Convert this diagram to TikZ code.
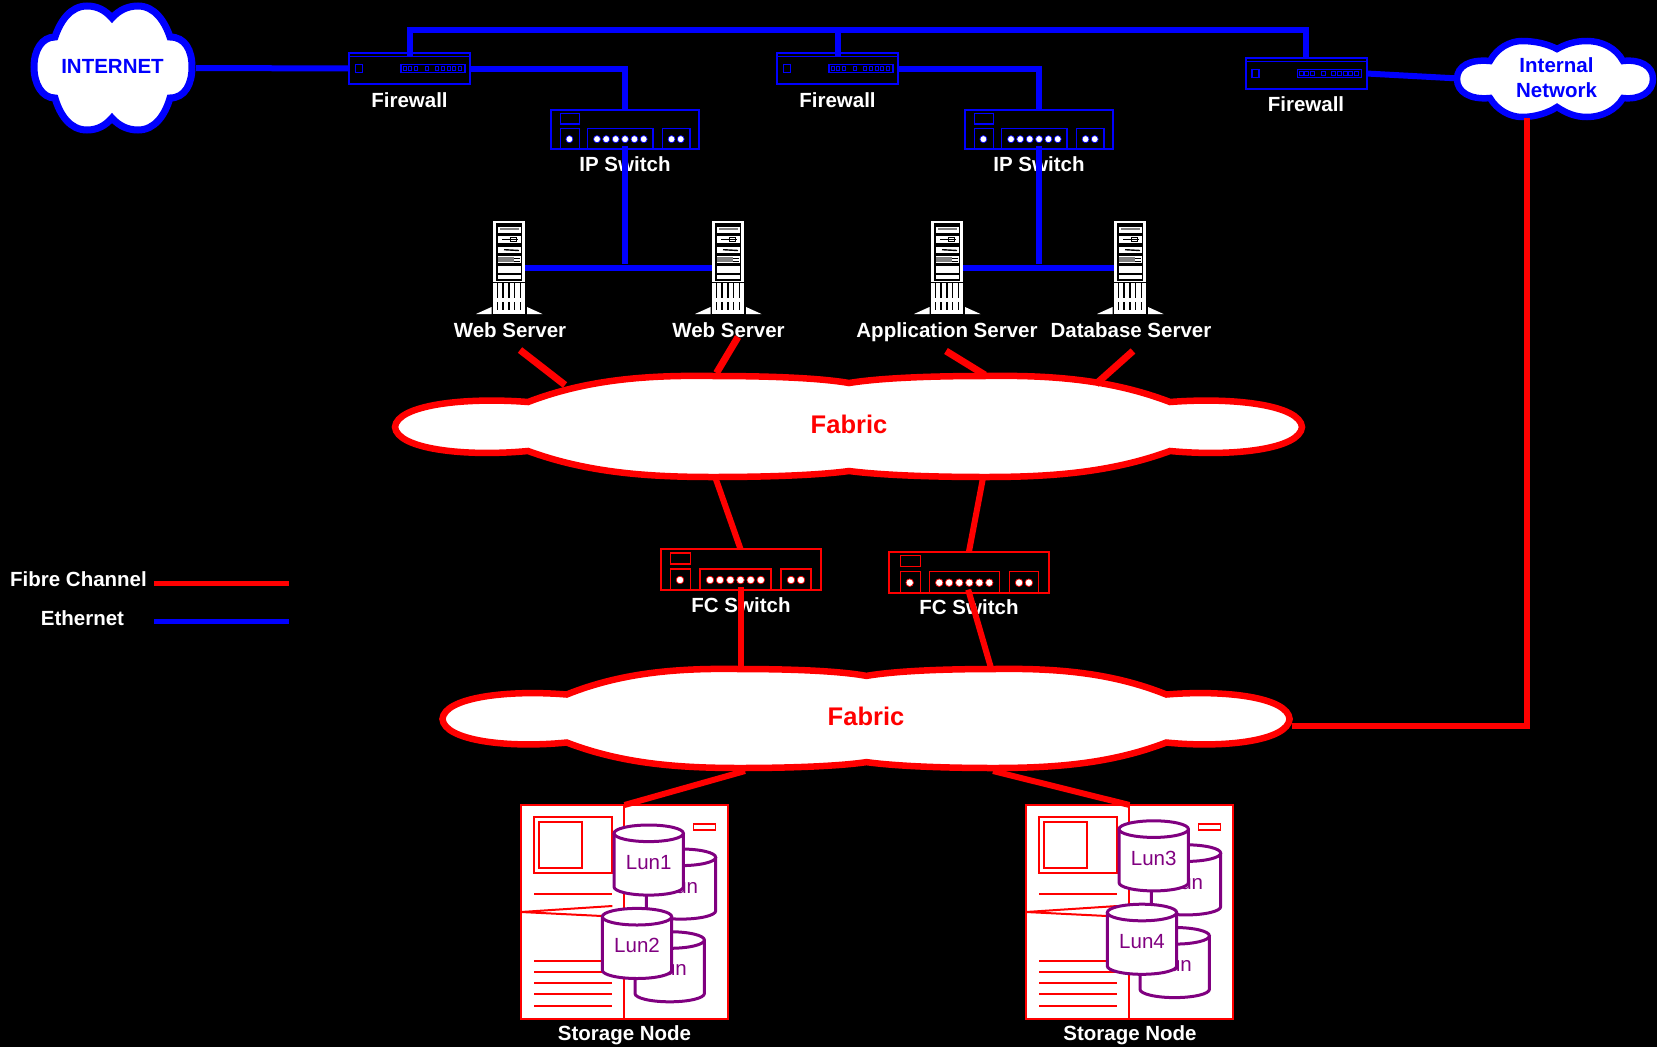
\documentclass[tikz,border=0pt]{standalone}
\usepackage{fontspec}
\setmainfont{Liberation Sans}

\definecolor{lunpurple}{RGB}{128,0,128}

\tikzset{
	lab/.style={text=white,font=\fontsize{20.5}{25}\selectfont\bfseries,inner sep=0pt,text height=14.7pt,text depth=0pt},
	bluelab/.style={text=blue,font=\fontsize{20.5}{25}\selectfont\bfseries,inner sep=0pt,align=center},
	fablab/.style={text=red,font=\fontsize{25.5}{30}\selectfont\bfseries,inner sep=0pt},
	ethline/.style={draw=blue,line width=6pt},
	fcline/.style={draw=red,line width=6pt},
	fwbox/.style={draw=blue,line width=2pt,inner sep=0pt,outer sep=0pt,minimum width=121pt,minimum height=31.5pt},
	ipbox/.style={draw=blue,line width=2pt,inner sep=0pt,outer sep=0pt,minimum width=148pt,minimum height=38.5pt},
	fcbox/.style={draw=red,line width=2pt,inner sep=0pt,outer sep=0pt,minimum width=160pt,minimum height=41pt},
	srvbox/.style={fill=white,inner sep=0pt,outer sep=0pt,minimum width=32.5pt,minimum height=93pt},
	storbox/.style={draw=red,fill=white,line width=2.5pt,inner sep=0pt,outer sep=0pt,minimum width=207pt,minimum height=214pt},
	%firewall front
	fwicon/.pic={
		\draw[blue,line width=1.2pt] (0,4)--(121,4);
		\draw[blue,line width=1.2pt] (6.5,12) rectangle (13.5,20);
		\draw[blue,line width=1.2pt] (52,12) rectangle (116,20);
		\foreach \px in {54,59,65,76,86,92,98,103,109}
			\draw[blue,line width=0.8pt] (\px,14) rectangle (\px+3.5,18);
	},
	%switch front, drawn at 161x41
	switchicon/.pic={
		\draw[#1,line width=1.3pt] (10.3,4) rectangle (30.7,15);
		\draw[#1,line width=1.3pt] (10.3,20) rectangle (30.7,41);
		\draw[#1,line width=1.3pt] (40,20) rectangle (111,41);
		\draw[#1,line width=1.3pt] (121,20) rectangle (151,41);
		\foreach \px in {20,50,60,70.3,80.5,90.7,100.8,131,141}
			\filldraw[draw=#1,fill=white,line width=0.7pt] (\px,31) circle (3.8);
	},
	%tower server, origin at top middle
	srvicon/.pic={
		\fill[black] (-13,2) rectangle (13,60);
		\fill[white] (-11,6) rectangle (12,12);
		\fill[white] (-11,15) rectangle (12,22);
		\fill[white] (-11,25.5) rectangle (12,32);
		\fill[white] (-11,35) rectangle (12,42);
		\fill[white] (-11,45) rectangle (12,52);
		\fill[white] (-11,54) rectangle (12,58);
		\fill[gray] (-9,7) rectangle (10,9);
		\draw[black,line width=0.8pt] (-7,18.5)--(9,18.5);
		\draw[black,line width=0.8pt] (1,16.5) rectangle (7,20.5);
		\draw[black,line width=1.4pt] (-5,28.7)--(10,29.5);
		\fill[gray] (-11,36) rectangle (5,41);
		\fill[black] (-11,42.5) rectangle (12,44.5);
		\draw[black,line width=0.7pt] (5,37)--(11,37) (5,40)--(11,40);
		\foreach \sx in {-11.5,-6,0,5.5,11.5}{
			\draw[black,line width=1.6pt] (\sx,62)--(\sx,77);
			\draw[black,line width=1.6pt] (\sx,81)--(\sx,89);
		}
		\draw[black,line width=0.8pt] (-16,61)--(16,61);
		\fill[white] (-33,93)--(-17.5,86)--(-17.5,93)--cycle;
		\fill[white] (33.5,93)--(18,86)--(18,93)--cycle;
	},
	%storage front, origin at top left
	storicon/.pic={
		\draw[red,line width=2pt] (103,0)--(103,214);
		\draw[red,line width=2pt] (13,11.7) rectangle (91.3,67.7);
		\draw[red,line width=2pt] (18,16.7) rectangle (61,62.7);
		\draw[red,line width=1.4pt] (172.7,19) rectangle (194.7,25);
		\draw[red,line width=2pt] (91.3,101)--(0,107)--(81,111);
		\foreach \ly in {89.3,156,167,178.3,189.3,200.7}
			\draw[red,line width=2pt] (13,\ly)--(91.3,\ly);
	},
	%one disk, origin at middle of its top
	lundisk/.pic={
		\draw[lunpurple,fill=white,line width=3pt] (-34.7,0)--(-34.7,53.5) arc[start angle=180,end angle=0,x radius=34.7,y radius=8.3]--(34.7,0);
		\draw[lunpurple,fill=white,line width=3pt] (0,0) ellipse (34.7 and 8.3);
		\node[text=lunpurple,font=\fontsize{20.5}{25}\selectfont,inner sep=0pt] (-lab) at (0,29) {#1};
	},
	%big cloud, origin at its middle
	fabcloud/.pic={
		\draw[red,fill=white,line width=6.5pt] (-454,0) .. controls (-452,-22) and (-385,-30) .. (-321,-25)
			.. controls (-261,-48) and (-200,-52) .. (-136,-51)
			.. controls (-79,-51) and (-29,-49) .. (0,-44)
			.. controls (31,-49) and (81,-51) .. (136,-51)
			.. controls (200,-52) and (261,-48) .. (321,-25)
			.. controls (385,-30) and (451,-22) .. (453,0)
			.. controls (451,22) and (385,30) .. (321,24)
			.. controls (261,46) and (200,50) .. (136,50)
			.. controls (81,50) and (31,48) .. (0,44)
			.. controls (-29,48) and (-79,50) .. (-136,50)
			.. controls (-200,50) and (-261,46) .. (-321,24)
			.. controls (-385,30) and (-452,22) .. (-454,0) -- cycle;
	}
}

\begin{document}
\begin{tikzpicture}[x=1pt,y=-1pt]
	\fill[black] (0,0) rectangle (1657,1047);
	\useasboundingbox (0,0) rectangle (1657,1047);

	%Clouds
	\draw[blue,fill=white,line width=7pt] (112,18) .. controls (105,10) and (97,6) .. (87,6)
		.. controls (70,6) and (60,22) .. (55,37)
		.. controls (42,37) and (34,50) .. (34,67)
		.. controls (34,84) and (42,98) .. (55,98)
		.. controls (60,115) and (70,130) .. (87,130)
		.. controls (97,130) and (105,126) .. (112,118)
		.. controls (119,126) and (128,130) .. (138,130)
		.. controls (155,130) and (165,115) .. (170,98)
		.. controls (185,98) and (192,84) .. (192,67)
		.. controls (192,50) and (185,37) .. (170,37)
		.. controls (165,22) and (155,6) .. (138,6)
		.. controls (128,6) and (119,10) .. (112,18) -- cycle;
	\draw[blue,fill=white,line width=6.5pt] (1457,79) .. controls (1457,66) and (1470,59) .. (1490,61)
		.. controls (1497,48) and (1510,41) .. (1522,41)
		.. controls (1535,41) and (1548,44) .. (1557,49)
		.. controls (1566,44) and (1575,41) .. (1587,41)
		.. controls (1602,41) and (1616,48) .. (1623,61)
		.. controls (1640,59) and (1653,66) .. (1653,79)
		.. controls (1653,92) and (1640,100) .. (1623,98)
		.. controls (1616,110) and (1602,117) .. (1587,117)
		.. controls (1575,117) and (1566,113) .. (1557,107)
		.. controls (1548,113) and (1535,117) .. (1522,117)
		.. controls (1510,117) and (1497,110) .. (1490,98)
		.. controls (1470,100) and (1457,92) .. (1457,79) -- cycle;
	\pic at (849,427) {fabcloud};
	\pic[xscale=.934,yscale=.98] at (866.5,719) {fabcloud};
	\node[bluelab] (inet) at (112.5,66.5) {INTERNET};
	\node[bluelab,font=\fontsize{20.5}{25.5}\selectfont\bfseries] (intnet) at (1556.5,77.5) {Internal\\Network};
	\node[fablab] (fab1) at (849,424.5) {Fabric};
	\node[fablab] (fab2) at (866,716.5) {Fabric};

	%Firewalls
	\node[fwbox] (fw1) at (409.5,68.5) {};
	\node[fwbox] (fw2) at (837.5,68.5) {};
	\node[fwbox] (fw3) at (1306,73.5) {};
	\pic at (349,52.7) {fwicon};
	\pic at (777,52.7) {fwicon};
	\pic at (1245.5,57.7) {fwicon};
	\node[lab] (fw1lab) at (409.5,100.5) {Firewall};
	\node[lab] (fw2lab) at (837.5,100.5) {Firewall};
	\node[lab] (fw3lab) at (1306,104.5) {Firewall};

	%IP switches
	\node[ipbox] (sw1) at (625,129.5) {};
	\node[ipbox] (sw2) at (1039,129.5) {};
	\pic[xscale=.92,yscale=.94] at (551,110) {switchicon=blue};
	\pic[xscale=.92,yscale=.94] at (965,110) {switchicon=blue};
	\node[lab] (sw1lab) at (625,164.5) {IP Switch};
	\node[lab] (sw2lab) at (1039,164.5) {IP Switch};

	%Servers
	\node[srvbox] (srv1) at (509,267.5) {};
	\node[srvbox] (srv2) at (728,267.5) {};
	\node[srvbox] (srv3) at (947,267.5) {};
	\node[srvbox] (srv4) at (1130,267.5) {};
	\foreach \cx in {509,728,947,1130}
		\pic at (\cx,221) {srvicon};
	\node[lab] (srv1lab) at (510,330.5) {Web Server};
	\node[lab] (srv2lab) at (728.5,330.5) {Web Server};
	\node[lab] (srv3lab) at (947,330.5) {Application Server};
	\node[lab] (srv4lab) at (1131,330.5) {Database Server};

	%FC switches
	\node[fcbox] (fc1) at (740.5,569.5) {};
	\node[fcbox] (fc2) at (969,572) {};
	\pic at (660,549) {switchicon=red};
	\pic[xscale=.985] at (890,551.7) {switchicon=red};
	\node[lab] (fc1lab) at (741,605.5) {FC Switch};
	\node[lab] (fc2lab) at (969,607.5) {FC Switch};

	%Storage nodes
	\node[storbox] (stor1) at (624.5,912) {};
	\node[storbox] (stor2) at (1129.5,912) {};
	\pic at (521,805) {storicon};
	\pic at (1026,805) {storicon};
	\pic (lunb) at (681,857.3) {lundisk=Lun};
	\pic (lun1) at (648.7,833.3) {lundisk=Lun1};
	\pic (lund) at (669.7,940) {lundisk=Lun};
	\pic (lun2) at (637,916.7) {lundisk=Lun2};
	\pic (lunf) at (1186,853.1) {lundisk=Lun};
	\pic (lun3) at (1153.7,829.1) {lundisk=Lun3};
	\pic (lunh) at (1174.7,935.8) {lundisk=Lun};
	\pic (lun4) at (1142,912.5) {lundisk=Lun4};
	\node[lab] (stor1lab) at (624.5,1033.5) {Storage Node};
	\node[lab] (stor2lab) at (1130,1033.5) {Storage Node};

	%Free ends of the links
	\coordinate (businet) at (196,68);
	\coordinate (bus1) at (409.5,30);
	\coordinate (bus2) at (837.5,30);
	\coordinate (bus3) at (1306,30);
	\coordinate (intwest) at (1455,78.3);
	\coordinate (intsouth) at (1527,118);
	\coordinate (fab2east) at (1292,726);
	\coordinate (ws1a) at (520,350);
	\coordinate (ws1b) at (565,385);
	\coordinate (ws2a) at (738,337);
	\coordinate (ws2b) at (716.5,373);
	\coordinate (apa) at (946,351);
	\coordinate (apb) at (985,375);
	\coordinate (dba) at (1133,351);
	\coordinate (dbb) at (1096,384);
	\coordinate (fab1s1) at (715.5,478);
	\coordinate (fab1s2) at (983,478);
	\coordinate (fab2n1) at (740.5,668);
	\coordinate (fab2n2) at (991,668);
	\coordinate (fab2s1) at (745,771);
	\coordinate (fab2s2) at (993,771);

	%Ethernet links
	\draw[ethline] (businet)--(fw1.west);
	\draw[ethline,shorten <=-3pt] (fw1.north)--(bus1)--(bus3)--(fw3.north);
	\draw[ethline,shorten <=-3pt] (fw2.north)--(bus2);
	\draw[ethline] (fw3.east)--(intwest);
	\draw[ethline] (fw1.east)-|(sw1.north);
	\draw[ethline] (fw2.east)-|(sw2.north);
	\draw[ethline,shorten <=-3pt,shorten >=4pt] (sw1.south)--(sw1.south|-srv1.east);
	\draw[ethline,shorten <=-3pt,shorten >=4pt] (sw2.south)--(sw2.south|-srv3.east);
	\draw[ethline] (srv1.east)--(srv2.west);
	\draw[ethline] (srv3.east)--(srv4.west);

	%Fibre channel links
	\draw[fcline,line width=7pt] (ws1a)--(ws1b);
	\draw[fcline,line width=7pt] (ws2a)--(ws2b);
	\draw[fcline,line width=7pt] (apa)--(apb);
	\draw[fcline,line width=7pt] (dba)--(dbb);
	\draw[fcline] (fab1s1)--(fc1.north);
	\draw[fcline] (fab1s2)--(fc2.north);
	\draw[fcline,shorten <=-3pt] (fc1.south)--(fab2n1);
	\draw[fcline,shorten <=-3pt] (fc2.south)--(fab2n2);
	\draw[fcline] (fab2s1)--(stor1.north);
	\draw[fcline] (fab2s2)--(stor2.north);
	\draw[fcline] (intsouth)|-(fab2east);

	%Legend
	\node[lab] (fclab) at (78.5,579) {Fibre Channel};
	\node[lab] (ethlab) at (82.5,618) {Ethernet};
	\coordinate (fcl1) at (154,583.5);
	\coordinate (fcl2) at (288.5,583.5);
	\coordinate (ethl1) at (154,621.5);
	\coordinate (ethl2) at (288.5,621.5);
	\draw[fcline,line width=5.5pt] (fcl1)--(fcl2);
	\draw[ethline,line width=5.5pt] (ethl1)--(ethl2);
\end{tikzpicture}
\end{document}
